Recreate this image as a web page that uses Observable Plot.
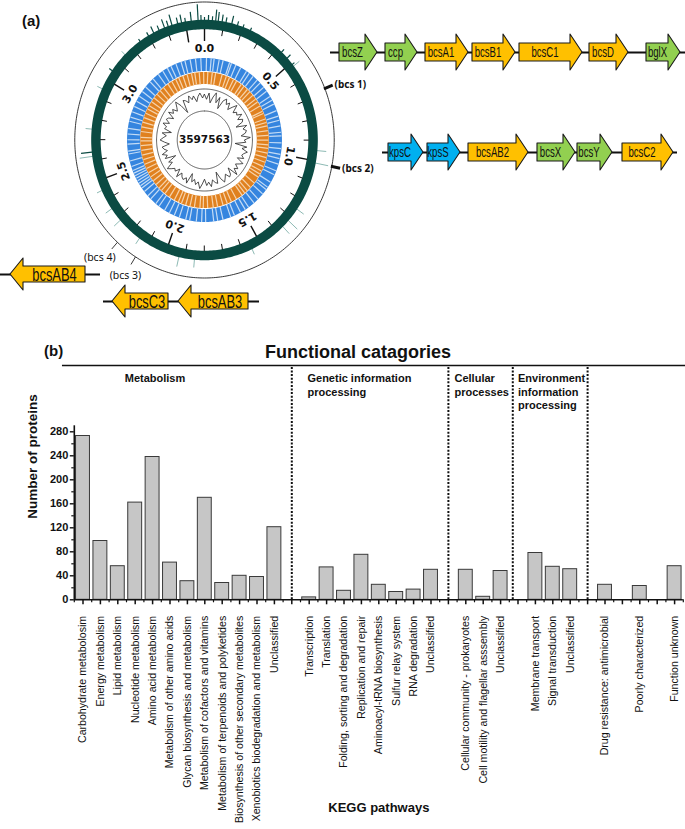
<!DOCTYPE html>
<html><head><meta charset="utf-8">
<script src="https://cdn.jsdelivr.net/npm/d3@7"></script>
<script src="https://cdn.jsdelivr.net/npm/@observablehq/plot@0.6"></script>
<style>
html,body{margin:0;padding:0;background:#fff;}
#page{position:relative;width:685px;height:829px;overflow:hidden;font-family:"Liberation Sans",Arial,sans-serif;background:#fff;}
#page > svg{position:absolute;overflow:visible;}
.lbl{position:absolute;font-weight:bold;white-space:nowrap;line-height:1;color:#111;}
[aria-label="y-axis tick label"]{font-weight:bold;}
</style></head><body><div id="page"></div>
<script>
// ================= DATA =================
// panel (a): circular genome map
const genomeLength = 3597563;
const scaleLabels = ["0.0", "0.5", "1.0", "1.5", "2.0", "2.5", "3.0"];
const scaleLabelMb = [0, 0.5, 1.0, 1.5, 2.0, 2.5, 3.0];
const gcContent = [
  51,48,52,46,50,53,47,51,44,50, 52,49,51,47,50,53,48,50,49,52,
  48,51,50,45,52,49,51,50,47,53, 49,50,43,51,48,52,50,49,51,47,
  52,50,48,51,49,53,46,50,51,48, 50,52,49,44,51,50,48,52,49,51,
  47,50,53,49,51,48,50,45,52,49, 51,50,48,52,47,50,49,51,53,48,
  50,44,51,49,52,48,50,51,46,49, 52,50,48,51,45,50,49,52,48,51,
  50,47,52,49,51,48,50,53,49,43, 51,50,48,52,49,51,47,50,52,49];
const blueGapsMb = [0.015,0.05,0.072,0.11,0.14,0.19,0.205,0.24,0.28,0.33,0.355,0.39,0.43,0.46,0.50,0.535,0.58,0.61,0.64,0.69,0.73,0.76,0.80,0.845,0.87,0.92,0.96,1.0,1.03,1.07,1.12,1.15,1.21,1.25,1.27,1.31,1.36,1.40,1.45,1.48,1.52,1.57,1.60,1.66,1.70,1.73,1.79,1.82,1.86,1.91,1.94,1.99,2.03,2.07,2.11,2.16,2.19,2.24,2.27,2.31,2.34,2.36,2.38,2.40,2.42,2.44,2.46,2.48,2.51,2.55,2.6,2.62,2.67,2.70,2.74,2.78,2.83,2.86,2.9,2.94,2.98,3.02,3.06,3.1,3.15,3.18,3.23,3.27,3.31,3.34,3.38,3.42,3.45,3.49,3.53,3.57];
const orangeGapsMb = [0.03,0.07,0.1,0.16,0.2,0.23,0.27,0.3,0.35,0.38,0.42,0.45,0.49,0.53,0.56,0.6,0.65,0.67,0.72,0.75,0.78,0.82,0.86,0.9,0.94,0.97,1.01,1.05,1.09,1.13,1.17,1.2,1.23,1.29,1.34,1.38,1.41,1.44,1.5,1.55,1.59,1.63,1.68,1.72,1.77,1.81,1.84,1.89,1.93,1.97,2.01,2.04,2.08,2.13,2.18,2.22,2.25,2.29,2.33,2.37,2.41,2.45,2.49,2.53,2.57,2.61,2.65,2.69,2.72,2.77,2.81,2.85,2.89,2.93,2.97,3.0,3.04,3.08,3.12,3.16,3.2,3.25,3.29,3.33,3.36,3.4,3.44,3.48,3.51,3.55,3.59];
const darkSpikeMb  = [3.25,3.30,3.33,3.36,3.39,3.41,3.43,3.46,3.48,3.50,3.53,3.565,3.58,0.0,0.02,0.04,0.057,0.07,0.09,0.11,0.14,0.17,0.2,0.24,0.43,0.47,0.51,2.64,3.05];
const darkSpikeLen = [3,4,7,5,9,6,11,6,8,4,9,16,5,3,5,4,11,9,7,5,8,4,3,3,4,5,3,12,4];
const faintSpikeMb  = [0.52,0.95,1.01,1.25,1.32,1.36,1.55,1.85,1.93,2.15,2.28,2.35,2.45,2.62,2.75,2.95,3.15];
const faintSpikeLen = [8,10,14,9,13,10,6,8,10,7,9,8,6,14,7,6,5];
const bcsLoci = ["(bcs 1)", "(bcs 2)", "(bcs 3)", "(bcs 4)"];
const bcsLociMb = [0.68, 1.01, 2.12, 2.22];

// gene clusters (kb)
const cluster1Genes = ["bcsZ","ccp","bcsA1","bcsB1","bcsC1","bcsD","bglX"];
const cluster1Start = [0.45,2.75,4.75,7.1,9.45,12.95,15.8];
const cluster1End   = [2.35,4.35,6.9,9.25,12.6,14.9,17.5];
const cluster1Type  = ["other","other","bcs","bcs","bcs","bcs","other"];
const cluster1Length = 17.75;
const cluster2Genes = ["kpsC","kpsS","bcsAB2","bcsX","bcsY","bcsC2"];
const cluster2Start = [0.3,2.25,4.3,7.75,9.75,12.0];
const cluster2End   = [2.05,3.9,7.3,9.65,11.5,14.55];
const cluster2Type  = ["kps","kps","bcs","other","other","bcs"];
const cluster2Length = 14.75;
const cluster4Genes = ["bcsAB4"];
const cluster4Start = [0.5];
const cluster4End   = [4.25];
const cluster4Type  = ["bcs"];
const cluster4Length = 5;
const cluster3Genes = ["bcsC3","bcsAB3"];
const cluster3Start = [0.45,3.75];
const cluster3End   = [3.25,7.25];
const cluster3Type  = ["bcs","bcs"];
const cluster3Length = 7.8;

// panel (b): KEGG bar chart
const metabolism = ["Carbohydrate metabolosim","Energy metabolism","Lipid metabolism","Nucleotide metabolism","Amino acid metabolism","Metabolism of other amino acids","Glycan biosynthesis and metabolism","Metabolism of cofactors and vitamins","Metabolism of terpenoids and polyketides","Biosynthesis of other secondary metabolites","Xenobiotics biodegradation and metabolism","Unclassified"];
const metabolismCounts = [273,98,56,162,238,62,31,170,28,40,38,121];
const genetic = ["Transcription","Translation","Folding, sorting and degradation","Replication and repair","Aminoacyl-tRNA biosynthesis","Sulfur relay system","RNA degradation","Unclassified"];
const geneticCounts = [4,54,15,75,25,13,17,50];
const cellular = ["Cellular community - prokaryotes","Cell motility and flagellar asssembly","Unclassified"];
const cellularCounts = [50,5,48];
const environment = ["Membrane transport","Signal transduction","Unclassified"];
const environmentCounts = [78,55,51];
const others = ["Drug resistance: antimicrobial","Poorly characterized","Function unknown"];
const othersCounts = [25,23,56];
const groupTitles = ["Metabolism","Genetic information\nprocessing","Cellular\nprocesses","Environment\ninformation\nprocessing"];
const groupDividers = [12, 21, 24.7, 29];
const yTicks = [0,40,80,120,160,200,240,280];

// ================= LAYOUT =================
const page = document.getElementById("page");
function place(el, left, top) {
  el.style.position = "absolute"; el.style.left = left + "px"; el.style.top = top + "px";
  page.appendChild(el);
}
function htmlLabel(text, left, top, size) {
  const d = document.createElement("div");
  d.className = "lbl"; d.textContent = text; d.style.fontSize = size + "px";
  place(d, left, top);
  return d;
}
const transparent = {background: "transparent", overflow: "visible"};

// ---------- circular map ----------
const GL = genomeLength / 1e6;
const polar = (mb, r) => { const a = 2 * Math.PI * mb / GL; return {x: r * Math.sin(a), y: r * Math.cos(a)}; };
const circlePts = r => d3.range(0, 360, 1).map(a => ({x: r * Math.sin(a * Math.PI / 180), y: r * Math.cos(a * Math.PI / 180)}));
const radial = (mb, r1, r2) => { const p = polar(mb, r1), q = polar(mb, r2); return {x1: p.x, y1: p.y, x2: q.x, y2: q.y}; };
const CX = 204, CY = 139.5, SX = 0.94, AW = 370, AH = 300;
const GREEN = "#0b4b43";
const linkOpts = {x1: "x1", y1: "y1", x2: "x2", y2: "y2"};
const majorMb = d3.range(0, GL, 0.5);
const minorMb = d3.range(1, Math.floor(GL * 10) + 1).map(i => i / 10).filter(m => Math.abs(m * 2 - Math.round(m * 2)) > 1e-6);
const ringLine = (r, stroke, w) => Plot.line(circlePts(r), {x: "x", y: "y", curve: "linear-closed", stroke, strokeWidth: w});

const circlePlot = Plot.plot({
  width: AW, height: AH, margin: 0,
  x: {domain: [-CX / SX, (AW - CX) / SX], axis: null},
  y: {domain: [-(AH - CY), CY], axis: null},
  style: transparent,
  marks: [
    ringLine(138, "#222", 0.9),
    Plot.link(faintSpikeMb.map((m, i) => radial(m, 117, 120 + faintSpikeLen[i])), {...linkOpts, stroke: "#8dbab4", strokeWidth: 1}),
    ringLine(115.5, GREEN, 9.5),
    Plot.link(darkSpikeMb.map((m, i) => radial(m, 118, 120 + darkSpikeLen[i])), {...linkOpts, stroke: GREEN, strokeWidth: 1.2}),
    Plot.link(majorMb.map(m => radial(m, 111, 99)), {...linkOpts, stroke: "#111", strokeWidth: 1.4}),
    Plot.link(minorMb.map(m => radial(m, 111, 105.5)), {...linkOpts, stroke: "#111", strokeWidth: 1}),
    Plot.text(scaleLabelMb, {x: m => polar(m, 91.5).x, y: m => polar(m, 91.5).y, text: (m, i) => scaleLabels[i],
      rotate: m => m / GL * 360, fontFamily: "DejaVu Sans", fontWeight: "bold", fontSize: 11, fill: "#111"}),
    ringLine(75.5, "#3585df", 13),
    Plot.link(blueGapsMb.map(m => radial(m, 69, 82)), {...linkOpts, stroke: "#c4dcf6", strokeWidth: 1.2}),
    ringLine(62, "#e0811f", 12),
    Plot.link(orangeGapsMb.map(m => radial(m, 56, 68)), {...linkOpts, stroke: "#f6d3ab", strokeWidth: 1.2}),
    ringLine(51, "#333", 0.8),
    ringLine(29, "#333", 0.8),
    Plot.line(gcContent.map((v, i) => polar(i * GL / gcContent.length, 44 + (v - 50) * 1.6)),
      {x: "x", y: "y", curve: "linear-closed", stroke: "#222", strokeWidth: 0.8}),
    Plot.text(["3597563"], {x: 0, y: 0, text: d => d, fontFamily: "DejaVu Sans", fontWeight: "bold", fontSize: 10.5, fill: "#111"}),
    Plot.link([0, 1].map(i => radial(bcsLociMb[i], 137, 147)), {...linkOpts, stroke: "#111", strokeWidth: 3}),
    Plot.link([2, 3].map(i => radial(bcsLociMb[i], 138, 147)), {...linkOpts, stroke: "#222", strokeWidth: 0.9}),
    Plot.text([0, 1], {x: i => polar(bcsLociMb[i], 148).x, y: i => polar(bcsLociMb[i], 148).y, text: i => bcsLoci[i],
      textAnchor: "start", dx: 1, fontSize: 10, fontWeight: "bold", fill: "#111"}),
    Plot.text([2], {x: i => polar(bcsLociMb[i], 148).x, y: i => polar(bcsLociMb[i], 148).y, text: i => bcsLoci[i],
      dx: -5, dy: 10, fontSize: 10.5, fill: "#111"}),
    Plot.text([3], {x: i => polar(bcsLociMb[i], 147).x, y: i => polar(bcsLociMb[i], 147).y, text: i => bcsLoci[i],
      dx: -12, dy: 9, fontSize: 10.5, fill: "#111"})
  ]
});
place(circlePlot, 0, 0);

// ---------- gene clusters ----------
const typeColor = {bcs: "#FFC000", other: "#92D050", kps: "#00B0F0"};
function geneRow(names, starts, ends, types, length, strand, o) {
  const genes = names.map((n, i) => ({name: n, start: starts[i], end: ends[i], color: typeColor[types[i]]}));
  const pts = [];
  for (const g of genes) {
    if (strand > 0) {
      const hs = g.end - o.head;
      pts.push({gene: g.name, fill: g.color, x: g.start, lo: -o.hb, hi: o.hb},
               {gene: g.name, fill: g.color, x: hs, lo: -o.hb, hi: o.hb},
               {gene: g.name, fill: g.color, x: hs, lo: -o.hh, hi: o.hh},
               {gene: g.name, fill: g.color, x: g.end, lo: 0, hi: 0});
    } else {
      const hs = g.start + o.head;
      pts.push({gene: g.name, fill: g.color, x: g.start, lo: 0, hi: 0},
               {gene: g.name, fill: g.color, x: hs, lo: -o.hh, hi: o.hh},
               {gene: g.name, fill: g.color, x: hs, lo: -o.hb, hi: o.hb},
               {gene: g.name, fill: g.color, x: g.end, lo: -o.hb, hi: o.hb});
    }
  }
  const width = o.mL + length * o.pxPerKb + o.mR;
  const p = Plot.plot({
    width, height: 50, marginLeft: o.mL, marginRight: o.mR, marginTop: 0, marginBottom: 0,
    x: {domain: [0, length], axis: null}, y: {domain: [-25, 25], axis: null},
    color: {type: "identity"}, style: transparent,
    marks: [
      Plot.ruleY([0], {x1: 0, x2: length, stroke: "#111", strokeWidth: 2}),
      Plot.areaY(pts, {x: "x", y1: "lo", y2: "hi", z: "gene", fill: "fill", stroke: "#1a1a1a", strokeWidth: 1.1, curve: "linear"}),
      Plot.text(genes, {x: g => strand > 0 ? (g.start + g.end - o.head) / 2 : (g.start + o.head + g.end) / 2, y: 0,
        text: "name", fontSize: o.fs, fill: "#111", fontFamily: "'Liberation Sans',Arial,sans-serif"})
    ]
  });
  place(p, o.left, o.top);
  // narrow (condensed) lettering like the reference
  p.querySelectorAll('g[aria-label="text"] text').forEach(t => {
    const w = t.getComputedTextLength();
    t.setAttribute("textLength", (w * o.squeeze).toFixed(1));
    t.setAttribute("lengthAdjust", "spacingAndGlyphs");
  });
}
geneRow(cluster1Genes, cluster1Start, cluster1End, cluster1Type, cluster1Length, 1,
  {left: 320, top: 27, mL: 10, mR: 0, pxPerKb: 20, head: 0.6, hb: 9, hh: 18, fs: 15.5, squeeze: 0.62});
geneRow(cluster2Genes, cluster2Start, cluster2End, cluster2Type, cluster2Length, 1,
  {left: 372, top: 127, mL: 10, mR: 0, pxPerKb: 20, head: 0.6, hb: 9, hh: 18, fs: 15.5, squeeze: 0.62});
geneRow(cluster4Genes, cluster4Start, cluster4End, cluster4Type, cluster4Length, -1,
  {left: 0, top: 249, mL: 0, mR: 0, pxPerKb: 20, head: 0.65, hb: 8, hh: 16, fs: 19, squeeze: 0.68});
geneRow(cluster3Genes, cluster3Start, cluster3End, cluster3Type, cluster3Length, -1,
  {left: 93, top: 276, mL: 10, mR: 0, pxPerKb: 20, head: 0.65, hb: 8, hh: 16, fs: 19, squeeze: 0.68});

// ---------- bar chart ----------
const groups = [
  {names: metabolism, counts: metabolismCounts, divided: true},
  {names: genetic, counts: geneticCounts, divided: true},
  {names: cellular, counts: cellularCounts, divided: true},
  {names: environment, counts: environmentCounts, divided: true},
  {names: others, counts: othersCounts, spaced: true}
];
const bars = []; const nameAt = new Map();
let slot = 0;
groups.forEach(g => {
  g.names.forEach((n, i) => {
    bars.push({slot, name: n, value: g.counts[i]}); nameAt.set(slot, n); slot++;
    if (g.spaced && i < g.names.length - 1) slot++;
  });
  if (g.divided) slot++;
});
const lastSlot = slot - 1;
const groupLabelX = [2.4, groupDividers[0] + 0.9, groupDividers[1] + 0.35, groupDividers[2] + 0.3];
const BT = 335, BH = 494;
const HEADER_Y = 390.5, DIVIDER_TOP = 387, GROUP_LABEL_Y = 378.8;
const barPlot = Plot.plot({
  width: 685, height: BH, marginLeft: 73.8, marginRight: 2.2, marginTop: 90.3, marginBottom: 229.7,
  x: {domain: [-0.5, lastSlot + 0.5]},
  y: {domain: [0, 290]},
  style: {...transparent, fontFamily: "'Liberation Sans',Arial,sans-serif", color: "#111"},
  marks: [
    Plot.ruleY([HEADER_Y], {x1: -1.18, x2: lastSlot + 0.63, stroke: "#111", strokeWidth: 1.6}),
    Plot.ruleX(groupDividers, {y1: 0, y2: DIVIDER_TOP, stroke: "#111", strokeWidth: 2, strokeDasharray: "2,1.6"}),
    Plot.text(groupTitles, {x: (d, i) => groupLabelX[i], y: GROUP_LABEL_Y, text: d => d, textAnchor: "start", lineAnchor: "top",
      lineHeight: 1.23, fontSize: 11, fontWeight: "bold", fill: "#111"}),
    Plot.rect(bars, {x1: d => d.slot - 0.4, x2: d => d.slot + 0.4, y1: 0, y2: "value", fill: "#c6c6c6", stroke: "#3a3a3a", strokeWidth: 1}),
    Plot.axisY({ticks: yTicks, tickSize: 4, tickPadding: 2, fontSize: 11, fontWeight: "bold", strokeWidth: 1.4, label: null}),
    Plot.axisY({ticks: yTicks.slice(0, -1).map(t => t + 20), tickSize: 2.5, tickFormat: () => "", strokeWidth: 1.2, label: null}),
    Plot.axisX({ticks: d3.range(0, lastSlot + 1), tickSize: 5, tickPadding: 11, tickRotate: -90, fontSize: 10.6,
      tickFormat: s => nameAt.get(s) ?? "", strokeWidth: 1.5, label: null}),
    Plot.axisX({ticks: d3.range(-0.5, lastSlot + 1, 1), tickSize: 3, tickFormat: () => "", strokeWidth: 1.2, label: null}),
    Plot.ruleX([-0.5], {y1: 0, y2: 290, stroke: "#111", strokeWidth: 1.6}),
    Plot.ruleY([0], {x1: -0.5, x2: lastSlot + 0.5, stroke: "#111", strokeWidth: 1.6}),
    Plot.text(["KEGG pathways"], {frameAnchor: "bottom", dy: 212, fontSize: 13, fontWeight: "bold", fill: "#111"}),
    Plot.text(["Number of proteins"], {frameAnchor: "left", rotate: -90, dx: -42, dy: 6, fontSize: 13.5, fontWeight: "bold", fill: "#111"})
  ]
});
place(barPlot, 0, BT);

htmlLabel("(a)", 22, 13, 15);
htmlLabel("(b)", 44, 343, 15);
const title = htmlLabel("Functional catagories", 0, 343, 18);
title.style.left = (358 - title.offsetWidth / 2) + "px";
</script></body></html>
